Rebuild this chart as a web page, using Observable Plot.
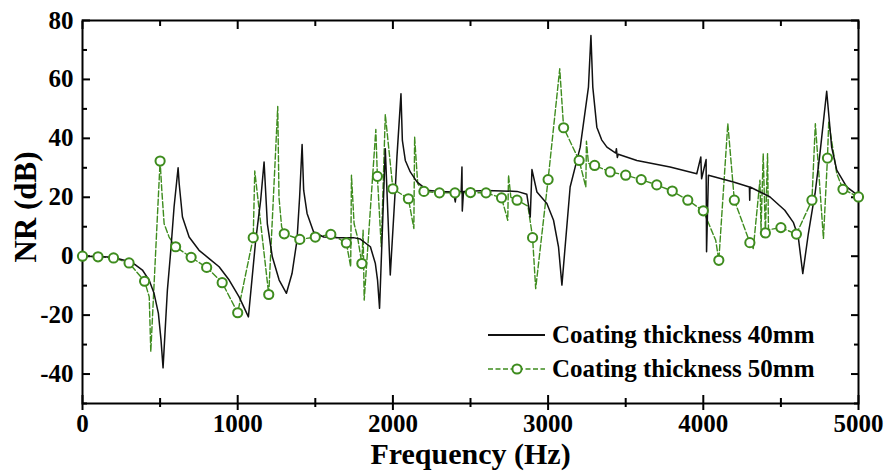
<!DOCTYPE html>
<html>
<head>
<meta charset="utf-8">
<script src="https://cdn.jsdelivr.net/npm/d3@7"></script>
<script src="https://cdn.jsdelivr.net/npm/@observablehq/plot@0.6"></script>
<style>
  body { margin: 0; background: #fff; }
  #chart { position: relative; width: 885px; height: 471px; font-family: "Liberation Serif", "Times New Roman", serif; font-weight: bold; }
  .legend-row { position: absolute; left: 486px; height: 26px; display: flex; align-items: center; font-size: 25px; color: #000; white-space: nowrap; }
  .legend-row svg { margin-right: 2px; }
</style>
</head>
<body>
<div id="chart"></div>
<script>
// Noise reduction spectra for two coating thicknesses
const freq40 = [0,100,200,300,343,386,429,461,489,506,519,547,569,590,616,623,644,687,751,816,880,945,1009,1069,1116,1148,1170,1191,1223,1267,1314,1350,1382,1399,1415,1425,1447,1489,1554,1650,1745,1790,1855,1887,1901,1914,1951,1983,2015,2026,2052,2061,2080,2112,2155,2220,2300,2390,2402,2410,2440,2445,2447,2455,2600,2800,2863,2885,2896,2928,2992,3035,3067,3089,3142,3207,3260,3276,3288,3314,3345,3379,3436,3440,3446,3452,3572,3786,3958,3984,3989,4018,4021,4033,4194,4297,4299,4301,4409,4430,4525,4580,4612,4641,4677,4709,4720,4752,4795,4827,4860,4924,5000];
const nr40 = [0,-0.1,-0.4,-1.8,-3,-4.7,-8.1,-12.6,-19.4,-28.5,-37.9,-11.5,2,16.7,30,24.6,13.3,6.5,2,-0.8,-3.6,-8.1,-13.8,-20.6,5.4,19,32,11,-0.2,-8.1,-12.6,-5.9,5.4,20.1,37.9,22.4,14.5,8.2,6.5,6.3,6.3,5.8,3.2,-2.5,-8.1,-17.7,36.5,-6.4,22.4,33.7,55.1,39.3,32.5,28.6,25.2,22.4,22,21.8,18.4,21.8,22,30.3,15.3,22,22.3,22,21,13.3,29.4,21.8,17.9,12.2,3.2,-9.8,23.5,37,57.4,74.9,57.4,43.8,39.5,37,35,36.5,33.5,34.6,32.5,30.3,28,33.7,26.3,32.8,1.5,27.5,25.2,23.5,19,23.5,20.7,20.1,15.6,11.5,6.5,-5.9,7.7,17.9,21.2,35,56,37,29.2,23.5,20.5];

const freq50 = [0,100,200,300,400,430,440,500,511,526,558,600,700,800,900,1000,1100,1110,1200,1258,1266,1283,1300,1400,1500,1600,1700,1728,1733,1750,1772,1800,1808,1815,1890,1900,1925,1951,2000,2100,2135,2140,2160,2200,2300,2400,2500,2600,2700,2740,2745,2760,2800,2870,2890,2900,2920,3000,3075,3100,3200,3243,3247,3260,3300,3400,3500,3600,3700,3800,3900,4000,4080,4100,4158,4200,4300,4322,4365,4372,4386,4400,4414,4420,4500,4600,4700,4722,4774,4800,4808,4860,4900,5000];
const nr50 = [0,-0.2,-0.6,-2.3,-8.5,-13.8,-32.4,32.3,22.4,11,6.5,3.2,-0.4,-3.8,-9,-19.2,6.3,28.9,-13,50.8,20,10,7.6,5.7,6.5,7.4,4.5,-3.6,27.5,11,6.5,-2.5,8.8,-14.9,43,27.1,3.2,48.1,22.9,19.5,9.4,40.4,24.6,22,21.5,21.5,21.6,21.5,19.8,12.2,27.5,20,19,17,10,6.3,-11,26,63.6,43.6,32.5,23.5,39,31.5,30.8,28.6,27.5,26,24.2,22.1,19,15.4,5.4,-1.4,45,19,4.6,2.6,25.8,9,34.8,7.9,34.8,9,9.7,7.5,19,45,6,33.3,45.5,28,22.7,20.1];

// Symbols sit on every 100 Hz sample of the 50 mm curve
const markerStep = 100;

const seriesNames = ["Coating thickness 40mm", "Coating thickness 50mm"];
const colors = ["#111111", "#3e8c1e"];

const xMajor = [0, 1000, 2000, 3000, 4000, 5000];
const xMinor = [500, 1500, 2500, 3500, 4500];
const yMajor = [-40, -20, 0, 20, 40, 60, 80];
const yMinor = [-50, -30, -10, 10, 30, 50, 70];

const rows40 = freq40.map((f, i) => ({f, v: nr40[i]}));
const rows50 = freq50.map((f, i) => ({f, v: nr50[i]}));
const markers50 = rows50.filter(d => d.f % markerStep === 0);

const font = '"Liberation Serif", "Times New Roman", serif';
const blank = () => "";
const plain = d => String(d);

const plot = Plot.plot({
  width: 885,
  height: 471,
  marginLeft: 82,
  marginRight: 27,
  marginTop: 20,
  marginBottom: 68,
  style: {fontFamily: font, fontWeight: "bold", background: "#fff", color: "#000"},
  x: {domain: [0, 5000]},
  y: {domain: [-50, 80]},
  marks: [
    // tick labels
    Plot.axisX(xMajor, {anchor: "bottom", tickSize: 0, tickPadding: 11, fontSize: 25, fontWeight: "bold", tickFormat: plain, label: null}),
    Plot.axisY(yMajor, {anchor: "left", tickSize: 0, tickPadding: 9, fontSize: 25, fontWeight: "bold", tickFormat: plain, label: null}),
    // ticks on all four sides
    Plot.axisX(xMajor, {anchor: "bottom", tickSize: 7, strokeWidth: 2, tickFormat: blank, label: null}),
    Plot.axisX(xMajor, {anchor: "bottom", tickSize: -8, strokeWidth: 2, tickFormat: blank, label: null}),
    Plot.axisX(xMinor, {anchor: "bottom", tickSize: 4, strokeWidth: 2, tickFormat: blank, label: null}),
    Plot.axisX(xMinor, {anchor: "bottom", tickSize: -5, strokeWidth: 2, tickFormat: blank, label: null}),
    Plot.axisX(xMajor, {anchor: "top", tickSize: -8, strokeWidth: 2, tickFormat: blank, label: null}),
    Plot.axisX(xMinor, {anchor: "top", tickSize: -5, strokeWidth: 2, tickFormat: blank, label: null}),
    Plot.axisY(yMajor, {anchor: "left", tickSize: -8, strokeWidth: 2, tickFormat: blank, label: null}),
    Plot.axisY(yMinor, {anchor: "left", tickSize: -5, strokeWidth: 2, tickFormat: blank, label: null}),
    Plot.axisY(yMajor, {anchor: "right", tickSize: -8, strokeWidth: 2, tickFormat: blank, label: null}),
    Plot.axisY(yMinor, {anchor: "right", tickSize: -5, strokeWidth: 2, tickFormat: blank, label: null}),
    Plot.frame({stroke: "#000", strokeWidth: 2}),
    // 50 mm curve: dashed trace with open circles
    Plot.line(rows50, {x: "f", y: "v", stroke: colors[1], strokeWidth: 1.4, strokeDasharray: "6,2.5"}),
    // 40 mm curve
    Plot.line(rows40, {x: "f", y: "v", stroke: colors[0], strokeWidth: 1.5}),
    Plot.dot(markers50, {x: "f", y: "v", r: 4.6, stroke: colors[1], strokeWidth: 2, fill: "#fff"}),
    // axis titles
    Plot.text(["Frequency (Hz)"], {frameAnchor: "bottom", dy: 51, fontSize: 30, fontWeight: "bold", lineAnchor: "middle"}),
    Plot.text(["NR (dB)"], {frameAnchor: "left", textAnchor: "middle", dx: -56, dy: -5, rotate: -90, fontSize: 31, fontWeight: "bold", lineAnchor: "middle"})
  ]
});

const chart = document.getElementById("chart");
chart.appendChild(plot);

// legend
const legendTops = [322, 356];
seriesNames.forEach((name, i) => {
  const row = document.createElement("div");
  row.className = "legend-row";
  row.style.top = legendTops[i] + "px";
  const ns = "http://www.w3.org/2000/svg";
  const svg = document.createElementNS(ns, "svg");
  svg.setAttribute("width", 64);
  svg.setAttribute("height", 26);
  const line = document.createElementNS(ns, "line");
  line.setAttribute("x1", 2); line.setAttribute("x2", 59);
  line.setAttribute("y1", 13); line.setAttribute("y2", 13);
  line.setAttribute("stroke", colors[i]);
  line.setAttribute("stroke-width", i === 0 ? 2 : 1.6);
  if (i === 1) line.setAttribute("stroke-dasharray", "5,2.5");
  svg.appendChild(line);
  if (i === 1) {
    const c = document.createElementNS(ns, "circle");
    c.setAttribute("cx", 31); c.setAttribute("cy", 13); c.setAttribute("r", 4.6);
    c.setAttribute("fill", "#fff"); c.setAttribute("stroke", colors[i]); c.setAttribute("stroke-width", 2);
    svg.appendChild(c);
  }
  row.appendChild(svg);
  const label = document.createElement("span");
  label.textContent = name;
  row.appendChild(label);
  chart.appendChild(row);
});
</script>
</body>
</html>
